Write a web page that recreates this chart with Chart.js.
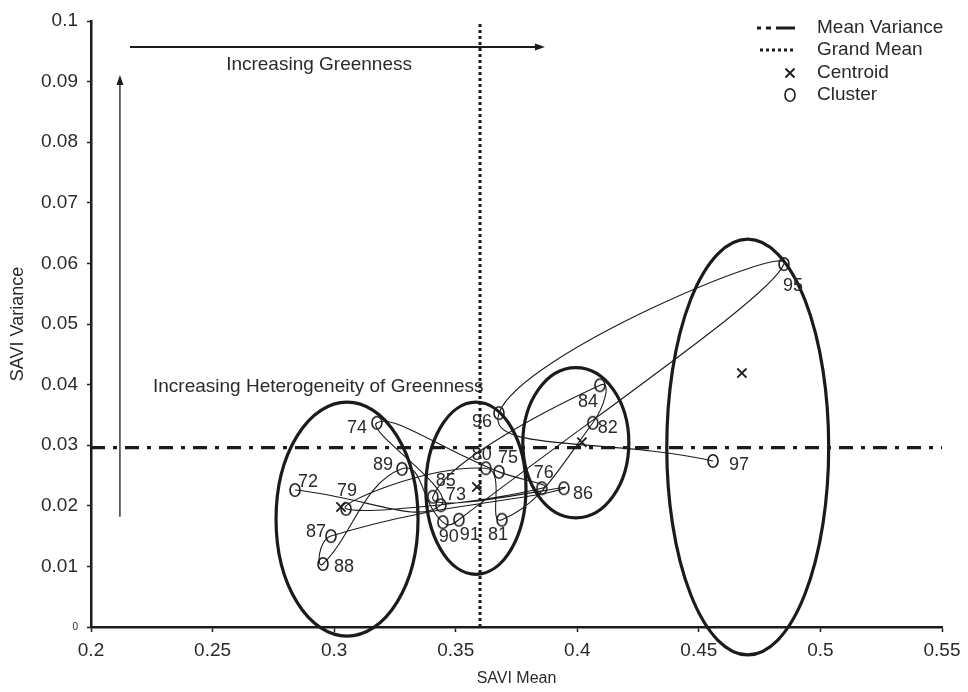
<!DOCTYPE html>
<html>
<head>
<meta charset="utf-8">
<title>SAVI Mean vs Variance</title>
<script src="https://cdn.jsdelivr.net/npm/chart.js@4/dist/chart.umd.min.js"></script>
<style>
  html, body { margin: 0; padding: 0; background: #fff; }
  #wrap { width: 968px; height: 692px; position: relative; }
</style>
</head>
<body>
<div id="wrap"><canvas id="chart"></canvas></div>
<script>
var years = ['72', '73', '74', '75', '76', '79', '80', '81', '82', '84', '85', '86', '87', '88', '89', '90', '91', '95', '96', '97'];
var saviMean = [0.2839, 0.3439, 0.3176, 0.3678, 0.3854, 0.3049, 0.3624, 0.3690, 0.4064, 0.4093, 0.3406, 0.3945, 0.2987, 0.2954, 0.3279, 0.3447, 0.3513, 0.4850, 0.3678, 0.4558];
var saviVariance = [0.0226, 0.0201, 0.0337, 0.0256, 0.0229, 0.0195, 0.0262, 0.0177, 0.0337, 0.0399, 0.0215, 0.0229, 0.0150, 0.0104, 0.0261, 0.0173, 0.0177, 0.0599, 0.0353, 0.0274];

var centroidMean = [0.3028, 0.3587, 0.4019, 0.4677];
var centroidVariance = [0.0198, 0.0231, 0.0305, 0.0419];

// cluster outlines: centre and half-widths in data units
var clusterMean = [0.3053, 0.3583, 0.3994, 0.4701];
var clusterVariance = [0.0178, 0.0229, 0.0304, 0.0297];
var clusterHalfMean = [0.0292, 0.0206, 0.0218, 0.0333];
var clusterHalfVariance = [0.0193, 0.0142, 0.0124, 0.0343];

var meanVariance = 0.0296;
var grandMean = 0.36;

var xTicks = [0.2, 0.25, 0.3, 0.35, 0.4, 0.45, 0.5, 0.55];
var yTicks = [0, 0.01, 0.02, 0.03, 0.04, 0.05, 0.06, 0.07, 0.08, 0.09, 0.1];

// where each year label sits relative to its marker, in pixels
var labelOffsets = [
  [13, -8], [15, -10], [-20, 5], [9, -14], [2, -15], [1, -18], [-4, -13], [-4, 15], [15, 5], [-12, 17],
  [13, -16], [19, 6], [-15, -4], [21, 3], [-19, -4], [6, 15], [11, 15], [9, 22], [-17, 9], [26, 4]
];

var FONT = '"Liberation Sans", Arial, Helvetica, sans-serif';
var INK = '#1b1b1b';
var TEXT = '#2a2a2a';

function makeRing() {
  var c = document.createElement('canvas');
  c.width = 14;
  c.height = 16;
  var g = c.getContext('2d');
  g.strokeStyle = INK;
  g.lineWidth = 1.6;
  g.beginPath();
  g.ellipse(7, 8, 5, 6.3, 0, 0, Math.PI * 2);
  g.stroke();
  return c;
}
var ring = makeRing();

function pairs(xs, ys) {
  var out = [], i;
  for (i = 0; i < xs.length; i++) {
    out.push({ x: xs[i], y: ys[i] });
  }
  return out;
}

var ellipsePlugin = {
  id: 'clusterOutlines',
  beforeDatasetsDraw: function(chart) {
    var ctx = chart.ctx, xs = chart.scales.x, ys = chart.scales.y, i, cx, cy, rx, ry;
    ctx.save();
    ctx.strokeStyle = INK;
    ctx.lineWidth = 3.2;
    for (i = 0; i < clusterMean.length; i++) {
      cx = xs.getPixelForValue(clusterMean[i]);
      cy = ys.getPixelForValue(clusterVariance[i]);
      rx = xs.getPixelForValue(clusterMean[i] + clusterHalfMean[i]) - cx;
      ry = cy - ys.getPixelForValue(clusterVariance[i] + clusterHalfVariance[i]);
      ctx.beginPath();
      ctx.ellipse(cx, cy, rx, ry, 0, 0, Math.PI * 2);
      ctx.stroke();
    }
    ctx.restore();
  }
};

function arrow(ctx, x1, y1, x2, y2, w) {
  var a = Math.atan2(y2 - y1, x2 - x1), head = 10;
  ctx.lineWidth = w;
  ctx.beginPath();
  ctx.moveTo(x1, y1);
  ctx.lineTo(x2 - Math.cos(a) * head * 0.6, y2 - Math.sin(a) * head * 0.6);
  ctx.stroke();
  ctx.beginPath();
  ctx.moveTo(x2, y2);
  ctx.lineTo(x2 - Math.cos(a) * head - Math.sin(a) * 3.5, y2 - Math.sin(a) * head + Math.cos(a) * 3.5);
  ctx.lineTo(x2 - Math.cos(a) * head + Math.sin(a) * 3.5, y2 - Math.sin(a) * head - Math.cos(a) * 3.5);
  ctx.closePath();
  ctx.fill();
}

var notesPlugin = {
  id: 'notes',
  afterDatasetsDraw: function(chart) {
    var ctx = chart.ctx, xs = chart.scales.x, ys = chart.scales.y;
    var px = function(v) { return xs.getPixelForValue(v); };
    var py = function(v) { return ys.getPixelForValue(v); };
    var i, meta, pt, off;

    ctx.save();
    ctx.strokeStyle = INK;
    ctx.fillStyle = INK;
    arrow(ctx, px(0.2160), py(0.0957), px(0.3867), py(0.0957), 2);
    arrow(ctx, px(0.2119), py(0.0182), px(0.2119), py(0.0911), 1.3);

    ctx.fillStyle = TEXT;
    ctx.font = '19px ' + FONT;
    ctx.textBaseline = 'middle';
    ctx.textAlign = 'center';
    ctx.fillText('Increasing Greenness', px(0.2938), py(0.0927));
    ctx.textAlign = 'left';
    ctx.fillText('Increasing Heterogeneity of Greenness', px(0.2255), py(0.0396));

    // year labels beside each cluster marker
    meta = chart.getDatasetMeta(0);
    ctx.font = '18px ' + FONT;
    ctx.textAlign = 'center';
    for (i = 0; i < years.length; i++) {
      pt = meta.data[i];
      off = labelOffsets[i];
      ctx.fillText(years[i], pt.x + off[0], pt.y + off[1]);
    }
    ctx.restore();
  }
};

var legendPlugin = {
  id: 'keyBox',
  afterDraw: function(chart) {
    var ctx = chart.ctx, left = 757, right = 795, textX = 817;
    var rows = [28, 50, 73, 95];
    var ds = chart.data.datasets;
    var names = [ds[2].label, ds[3].label, ds[1].label, ds[0].label];
    var i;
    ctx.save();
    ctx.strokeStyle = INK;
    ctx.lineWidth = 3;
    ctx.setLineDash([4, 5, 5, 5, 20, 5]);
    ctx.beginPath();
    ctx.moveTo(left, rows[0]);
    ctx.lineTo(right, rows[0]);
    ctx.stroke();
    ctx.setLineDash([3, 3]);
    ctx.beginPath();
    ctx.moveTo(left + 3, rows[1]);
    ctx.lineTo(right, rows[1]);
    ctx.stroke();
    ctx.setLineDash([]);
    ctx.lineWidth = 1.8;
    ctx.beginPath();
    ctx.moveTo(785.5, rows[2] - 4.5);
    ctx.lineTo(794.5, rows[2] + 4.5);
    ctx.moveTo(794.5, rows[2] - 4.5);
    ctx.lineTo(785.5, rows[2] + 4.5);
    ctx.stroke();
    ctx.drawImage(ring, 783, rows[3] - 8);
    ctx.fillStyle = TEXT;
    ctx.font = '19px ' + FONT;
    ctx.textBaseline = 'middle';
    ctx.textAlign = 'left';
    for (i = 0; i < rows.length; i++) {
      ctx.fillText(names[i], textX, rows[i]);
    }
    ctx.restore();
  }
};

var tickFmt = function(v) { return String(+v.toFixed(2)); };

var chart = new Chart(document.getElementById('chart'), {
  type: 'scatter',
  data: {
    datasets: [
      {
        label: 'Cluster',
        data: pairs(saviMean, saviVariance),
        showLine: true,
        tension: 0.5,
        borderColor: INK,
        borderWidth: 1.1,
        pointStyle: ring,
        pointRadius: 6,
        order: 2
      },
      {
        label: 'Centroid',
        data: pairs(centroidMean, centroidVariance),
        pointStyle: 'crossRot',
        pointRadius: 6.5,
        borderColor: INK,
        borderWidth: 1.8,
        order: 1
      },
      {
        label: 'Mean Variance',
        data: [{ x: xTicks[0], y: meanVariance }, { x: xTicks[xTicks.length - 1], y: meanVariance }],
        showLine: true,
        borderColor: INK,
        borderWidth: 3.2,
        borderDash: [14, 8, 4, 8],
        pointRadius: 0,
        order: 3
      },
      {
        label: 'Grand Mean',
        data: [{ x: grandMean, y: yTicks[0] }, { x: grandMean, y: yTicks[yTicks.length - 1] }],
        showLine: true,
        borderColor: INK,
        borderWidth: 3,
        borderDash: [3, 3],
        pointRadius: 0,
        order: 3
      }
    ]
  },
  options: {
    responsive: true,
    maintainAspectRatio: false,
    devicePixelRatio: 1,
    animation: false,
    layout: { padding: { left: 0, top: 21, right: 26, bottom: 0 } },
    plugins: {
      legend: { display: false },
      tooltip: { enabled: false }
    },
    scales: {
      x: {
        type: 'linear',
        min: xTicks[0],
        max: xTicks[xTicks.length - 1],
        afterBuildTicks: function(scale) {
          scale.ticks = xTicks.map(function(v) { return { value: v }; });
        },
        afterFit: function(scale) { scale.height = 65; },
        border: { display: true, color: INK, width: 2.5 },
        grid: { drawOnChartArea: false, drawTicks: true, tickLength: 5, tickWidth: 1.5, tickColor: INK },
        ticks: {
          color: TEXT,
          padding: 7,
          maxRotation: 0,
          font: { family: FONT, size: 19 },
          callback: tickFmt
        },
        title: {
          display: true,
          text: 'SAVI Mean',
          color: TEXT,
          font: { family: FONT, size: 16 },
          padding: { top: 0, bottom: 4 }
        }
      },
      y: {
        type: 'linear',
        min: yTicks[0],
        max: yTicks[yTicks.length - 1],
        afterBuildTicks: function(scale) {
          scale.ticks = yTicks.map(function(v) { return { value: v }; });
        },
        afterFit: function(scale) { scale.width = 91; },
        border: { display: true, color: INK, width: 2.5 },
        grid: { drawOnChartArea: false, drawTicks: true, tickLength: 4, tickWidth: 1.5, tickColor: INK },
        ticks: {
          color: TEXT,
          padding: 9,
          font: function(ctx) {
            return ctx.tick && ctx.tick.value === 0 ? { family: FONT, size: 10 } : { family: FONT, size: 19 };
          },
          callback: tickFmt
        },
        title: {
          display: true,
          text: 'SAVI Variance',
          color: TEXT,
          font: { family: FONT, size: 18 },
          padding: { top: 7, bottom: 0 }
        }
      }
    }
  },
  plugins: [ellipsePlugin, notesPlugin, legendPlugin]
});
</script>
</body>
</html>
